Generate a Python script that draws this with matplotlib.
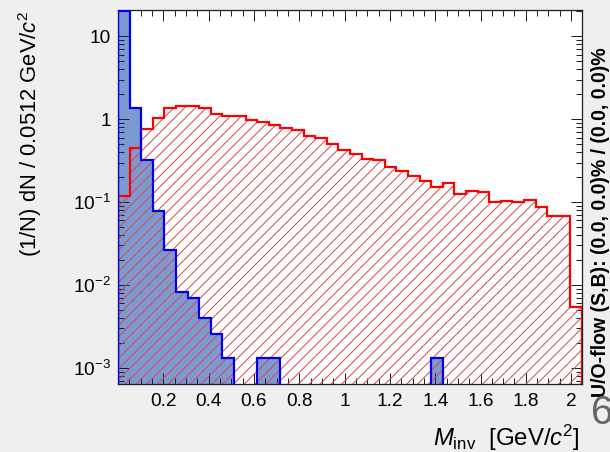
import numpy as np
import matplotlib
matplotlib.use("Agg")
import matplotlib.pyplot as plt
from matplotlib.ticker import FixedLocator, MultipleLocator, LogLocator, NullFormatter, FuncFormatter

# Binning of the invariant-mass histograms
bin_width = 0.0512
n_bins = 40
edges = np.arange(n_bins + 1) * bin_width

# Normalised signal distribution (blue, filled)
signal = [20.0, 1.38, 0.32, 0.0786, 0.0264, 0.0082, 0.0069, 0.0040, 0.0026, 0.0013,
          0.0, 0.0, 0.0013, 0.0013, 0.0, 0.0, 0.0, 0.0, 0.0, 0.0,
          0.0, 0.0, 0.0, 0.0, 0.0, 0.0, 0.0, 0.0013, 0.0, 0.0,
          0.0, 0.0, 0.0, 0.0, 0.0, 0.0, 0.0, 0.0, 0.0, 0.0]

# Normalised background distribution (red, hatched)
background = [0.12, 0.447, 0.77, 1.03, 1.36, 1.45, 1.45, 1.37, 1.15, 1.10,
              1.10, 0.97, 0.93, 0.86, 0.79, 0.75, 0.63, 0.60, 0.50, 0.43,
              0.375, 0.33, 0.32, 0.265, 0.238, 0.207, 0.181, 0.150, 0.168, 0.125,
              0.137, 0.133, 0.099, 0.104, 0.099, 0.107, 0.088, 0.068, 0.068, 0.0054]

y_ticks = [1e-3, 1e-2, 1e-1, 1, 10]
y_tick_labels = [r"$10^{-3}$", r"$10^{-2}$", r"$10^{-1}$", "1", "10"]
x_ticks = [0.2, 0.4, 0.6, 0.8, 1.0, 1.2, 1.4, 1.6, 1.8, 2.0]

DPI = 130
W, H = 610, 452


def pt(px):
    return px * 72.0 / DPI


plt.rcParams["font.family"] = ["Liberation Sans", "DejaVu Sans"]
plt.rcParams["mathtext.fontset"] = "custom"
plt.rcParams["mathtext.rm"] = "Liberation Sans"
plt.rcParams["mathtext.it"] = "Liberation Sans:italic"
plt.rcParams["mathtext.bf"] = "Liberation Sans:bold"
plt.rcParams["hatch.linewidth"] = pt(1.0)

fig = plt.figure(figsize=(W / DPI, H / DPI), dpi=DPI, facecolor="#efefef")
ax = fig.add_axes([118 / W, 1 - 384 / H, (582 - 118) / W, (384 - 9.5) / H])
ax.set_facecolor("white")
ax.set_yscale("log")

floor = 1e-6
sig = np.where(np.array(signal) > 0, signal, floor)
bkg = np.where(np.array(background) > 0, background, floor)

ax.stairs(sig, edges, baseline=floor, fill=True, facecolor="#7d99d1",
          edgecolor="none", linewidth=0, zorder=1)
ax.stairs(bkg, edges, baseline=floor, fill=True, facecolor="none",
          edgecolor="#d84a4a", hatch="////", linewidth=0, zorder=2)
ax.stairs(bkg, edges, baseline=floor, fill=False, color="#ff0000",
          linewidth=pt(2.2), zorder=3)
ax.stairs(sig, edges, baseline=floor, fill=False, color="#0000ee",
          linewidth=pt(2.2), zorder=4)

ax.set_xlim(edges[0], edges[-1])
ax.set_ylim(6.4e-4, 21)

ax.xaxis.set_major_locator(FixedLocator(x_ticks))
ax.xaxis.set_minor_locator(MultipleLocator(0.05))
ax.xaxis.set_major_formatter(FuncFormatter(lambda v, p: "%g" % round(v, 2)))
ax.yaxis.set_major_locator(FixedLocator(y_ticks))
ax.set_yticklabels(y_tick_labels)
ax.yaxis.set_minor_locator(LogLocator(base=10, subs=np.arange(2, 10)))
ax.yaxis.set_minor_formatter(NullFormatter())

ax.tick_params(which="both", direction="in", top=True, right=True,
               width=pt(1.0), color="#222222")
ax.tick_params(which="major", length=pt(11), labelsize=pt(19), pad=pt(7))
ax.tick_params(which="minor", length=pt(6))
ax.tick_params(axis="x", which="major", pad=pt(9))
for s in ax.spines.values():
    s.set_linewidth(pt(1.3))
    s.set_color("#222222")

fig.text(30 / W, 1 - 10 / H, r"(1/N) dN / 0.0512 GeV/$c^2$", rotation=90,
         ha="center", va="top", fontsize=pt(22))
fig.text(580 / W, 1 - 438 / H, r"$M_{\mathrm{inv}}$  [GeV/$c^2$]",
         ha="right", va="center", fontsize=pt(24))
fig.text(601 / W, 1 - 397 / H, "U/O-flow (S,B): (0.0, 0.0)% / (0.0, 0.0)%",
         rotation=90, ha="center", va="bottom", fontsize=pt(19.5),
         fontweight="bold")
fig.text(591 / W, 1 - 413 / H, "6", ha="left", va="center",
         fontsize=pt(40), color="#666666")

fig.savefig("out.png", dpi=DPI, facecolor=fig.get_facecolor())
